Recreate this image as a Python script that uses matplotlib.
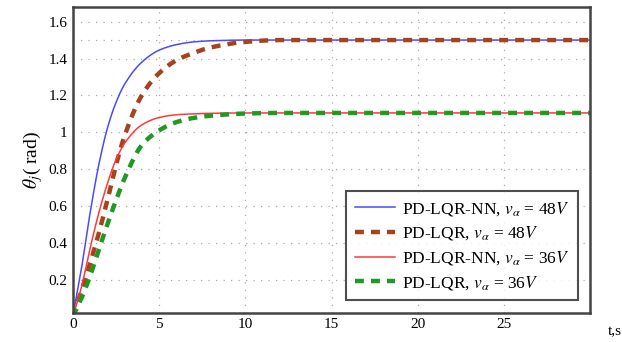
import numpy as np
import matplotlib.pyplot as plt

plt.rcParams['font.family'] = ['Liberation Serif', 'DejaVu Serif']
plt.rcParams['mathtext.fontset'] = 'stix'

# values
t = [0, 0.5, 1, 1.5, 2, 2.5, 3, 4, 5, 6, 7, 8, 10, 12, 15, 20, 25, 30]
nn_48 = [0, 0.26, 0.56, 0.82, 1.02, 1.16, 1.26, 1.38, 1.445, 1.475, 1.49, 1.496, 1.5, 1.5, 1.5, 1.5, 1.5, 1.5]
lqr_48 = [0, 0.14, 0.29, 0.45, 0.63, 0.82, 0.98, 1.2, 1.32, 1.39, 1.43, 1.46, 1.49, 1.5, 1.5, 1.5, 1.5, 1.5]
nn_36 = [0, 0.16, 0.37, 0.56, 0.72, 0.85, 0.94, 1.04, 1.08, 1.095, 1.1, 1.103, 1.105, 1.105, 1.105, 1.105, 1.105, 1.105]
lqr_36 = [0, 0.1, 0.22, 0.36, 0.5, 0.63, 0.75, 0.93, 1.01, 1.055, 1.078, 1.09, 1.102, 1.105, 1.105, 1.105, 1.105, 1.105]

labels = ['PD-LQR-NN, $v_{\\alpha}$ = 48$V$', 'PD-LQR, $v_{\\alpha}$ = 48$V$',
          'PD-LQR-NN, $v_{\\alpha}$ = 36$V$', 'PD-LQR, $v_{\\alpha}$ = 36$V$']
yticks = [0.2, 0.4, 0.6, 0.8, 1.0, 1.2, 1.4, 1.6]
ytick_labels = ['0.2', '0.4', '0.6', '0.8', '1', '1.2', '1.4', '1.6']
xticks = [0, 5, 10, 15, 20, 25]


def pchip(x, y, xs):
    # monotone cubic through the read points
    x = np.asarray(x, float)
    y = np.asarray(y, float)
    h = np.diff(x)
    d = np.diff(y) / h
    m = np.zeros_like(y)
    for k in range(1, len(x) - 1):
        if d[k - 1] * d[k] > 0:
            w1 = 2 * h[k] + h[k - 1]
            w2 = h[k] + 2 * h[k - 1]
            m[k] = (w1 + w2) / (w1 / d[k - 1] + w2 / d[k])
    m[0] = d[0]
    m[-1] = d[-1]
    i = np.clip(np.searchsorted(x, xs) - 1, 0, len(x) - 2)
    s = (xs - x[i]) / h[i]
    h00 = 2 * s**3 - 3 * s**2 + 1
    h10 = s**3 - 2 * s**2 + s
    h01 = -2 * s**3 + 3 * s**2
    h11 = s**3 - s**2
    return h00 * y[i] + h10 * h[i] * m[i] + h01 * y[i + 1] + h11 * h[i] * m[i + 1]


ts = np.linspace(0, 30, 900)

fig = plt.figure(figsize=(6.22, 3.42), dpi=100)
ax = fig.add_axes([0.117, 0.086, 0.832, 0.894])

ax.plot(ts, pchip(t, nn_48, ts), color='#4a4aff', lw=1.1, label=labels[0])
ax.plot(ts, pchip(t, lqr_48, ts), color='#a8421c', lw=3.2, ls=(0, (2.0, 1.6)), label=labels[1])
ax.plot(ts, pchip(t, nn_36, ts), color='#ff3838', lw=1.1, label=labels[2])
ax.plot(ts, pchip(t, lqr_36, ts), color='#1e9a22', lw=3.2, ls=(0, (2.0, 1.6)), label=labels[3])

ax.set_xlim(0, 30)
ax.set_ylim(0.023, 1.68)
ax.set_xticks(xticks)
ax.set_yticks(yticks)
ax.set_yticklabels(ytick_labels)
ax.tick_params(length=0, labelsize=11, pad=4)
for y in yticks + [1.5]:
    ax.axhline(y, color='#aaaaaa', lw=0.9, ls=(0, (1, 5)), zorder=0)
for x in xticks[1:]:
    ax.axvline(x, color='#aaaaaa', lw=0.9, ls=(0, (1, 5)), zorder=0)
for s in ax.spines.values():
    s.set_linewidth(1.8)
    s.set_color('#444444')

ax.set_ylabel('$\\theta_j$( rad)', fontsize=14, labelpad=2)
ax.annotate('t,s', xy=(1.0, 0), xycoords='axes fraction', xytext=(18, -14),
            textcoords='offset points', ha='center', va='center', fontsize=11)

leg = ax.legend(loc='lower right', bbox_to_anchor=(0.977, 0.04), borderaxespad=0,
                fontsize=12.5, frameon=True, fancybox=False, edgecolor='#222222',
                handlelength=2.3, handletextpad=0.45, labelspacing=0.38, borderpad=0.5)
leg.get_frame().set_linewidth(1.5)

fig.savefig('out.png', dpi=100)
